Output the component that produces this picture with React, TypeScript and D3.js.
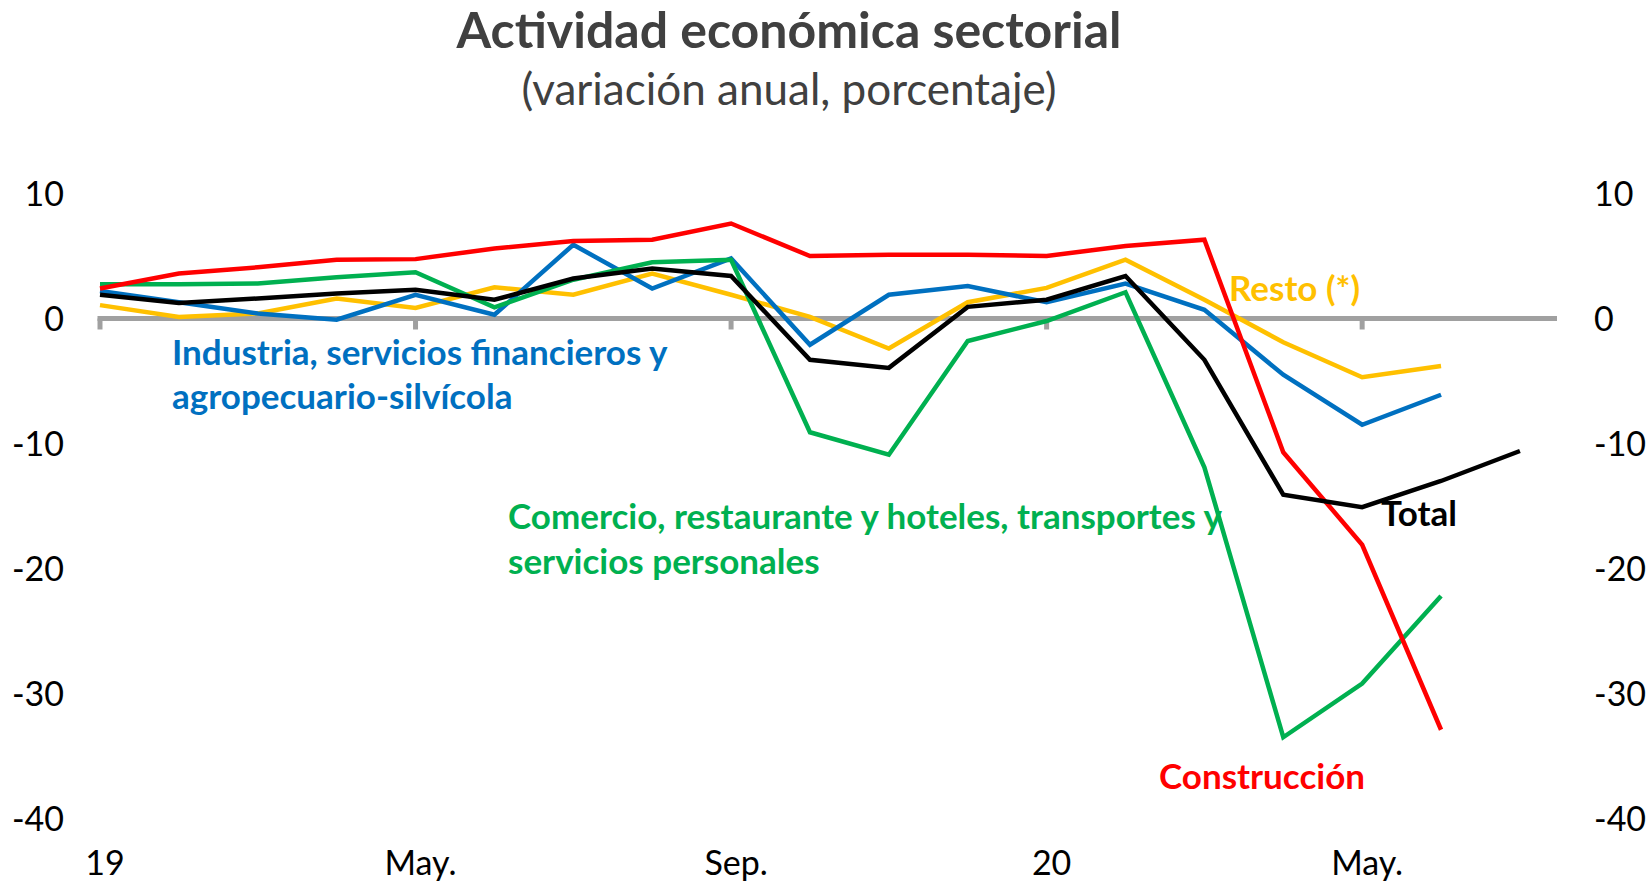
import React from 'react';
import * as d3 from 'd3';

// meses: ene-2019 .. jul-2020
const months = [
  '2019-01', '2019-02', '2019-03', '2019-04', '2019-05', '2019-06', '2019-07', '2019-08', '2019-09',
  '2019-10', '2019-11', '2019-12', '2020-01', '2020-02', '2020-03', '2020-04', '2020-05', '2020-06', '2020-07',
];

const construccion = [2.4, 3.6, 4.1, 4.7, 4.75, 5.6, 6.2, 6.3, 7.6, 5.0, 5.1, 5.1, 5.0, 5.8, 6.3, -10.7, -18.1, -32.9];
const comercio = [2.75, 2.75, 2.8, 3.3, 3.7, 0.9, 3.1, 4.5, 4.7, -9.1, -10.9, -1.8, -0.2, 2.1, -11.9, -33.5, -29.2, -22.2];
const industria = [2.2, 1.3, 0.4, -0.1, 1.9, 0.3, 5.9, 2.4, 4.8, -2.1, 1.9, 2.6, 1.3, 2.8, 0.7, -4.5, -8.5, -6.1];
const resto = [1.07, 0.13, 0.4, 1.6, 0.85, 2.5, 1.9, 3.6, 1.9, 0.13, -2.4, 1.3, 2.45, 4.7, 1.5, -1.9, -4.7, -3.8];
const total = [1.9, 1.25, 1.6, 2.0, 2.3, 1.5, 3.2, 4.0, 3.4, -3.3, -3.95, 0.93, 1.5, 3.4, -3.3, -14.1, -15.1, -13.0, -10.6];

const xTickMonths = ['2019-01', '2019-05', '2019-09', '2020-01', '2020-05'];
const xTickLabels = ['19', 'May.', 'Sep.', '20', 'May.'];
const yTicks = [10, 0, -10, -20, -30, -40];

const font = 'Lato, Calibri, sans-serif';

export default function App() {
  const width = 1650;
  const height = 885;

  // category axis runs a bit past the last month
  const x = d3.scaleLinear().domain([0, months.length - 0.53]).range([100, 1557]);
  const y = d3.scaleLinear().domain([-40, 10]).range([818.5, 193.5]);

  const line = d3.line<number>()
    .x((d, i) => x(i))
    .y((d) => y(d));

  const series = [
    { name: 'resto', values: resto, color: '#FFC000' },
    { name: 'industria', values: industria, color: '#0070C0' },
    { name: 'comercio', values: comercio, color: '#00B050' },
    { name: 'construccion', values: construccion, color: '#FF0000' },
    { name: 'total', values: total, color: '#000000' },
  ];

  const labelStyle = { fontFamily: font, fontWeight: 700, fontSize: 35 };

  return (
    <svg width={width} height={height} style={{ position: 'absolute', left: 0, top: 0, background: '#fff' }}>
      <text x={789} y={48} textAnchor="middle" fontFamily={font} fontWeight={700} fontSize={50} fill="#404040">
        Actividad económica sectorial
      </text>
      <text x={789} y={105} textAnchor="middle" fontFamily={font} fontSize={44} fill="#404040">
        (variación anual, porcentaje)
      </text>

      {/* eje cero con marcas */}
      <line x1={x(0) - 2.5} x2={x.range()[1]} y1={y(0)} y2={y(0)} stroke="#A0A0A0" strokeWidth={5} />
      {xTickMonths.map((m) => (
        <line key={m} x1={x(months.indexOf(m))} x2={x(months.indexOf(m))} y1={y(0)} y2={y(0) + 11} stroke="#A0A0A0" strokeWidth={5} />
      ))}

      {yTicks.map((t) => (
        <g key={t}>
          <text x={64} y={y(t) + 12} textAnchor="end" fontFamily={font} fontSize={34} fill="#000">{t}</text>
          <text x={1594} y={y(t) + 12} textAnchor="start" fontFamily={font} fontSize={34} fill="#000">{t}</text>
        </g>
      ))}

      {xTickMonths.map((m, i) => (
        <text key={m + i} x={x(months.indexOf(m)) + 5} y={875} textAnchor="middle" fontFamily={font} fontSize={34} fill="#000">
          {xTickLabels[i]}
        </text>
      ))}

      {series.map((s) => (
        <path key={s.name} d={line(s.values) || ''} fill="none" stroke={s.color} strokeWidth={4.5} strokeLinejoin="miter" strokeLinecap="butt" />
      ))}

      <text style={labelStyle} fill="#0070C0">
        <tspan x={172} y={365}>Industria, servicios financieros y</tspan>
        <tspan x={172} y={409}>agropecuario-silvícola</tspan>
      </text>
      <text style={labelStyle} fill="#00B050">
        <tspan x={508} y={529}>Comercio, restaurante y hoteles, transportes y</tspan>
        <tspan x={508} y={574}>servicios personales</tspan>
      </text>
      <text x={1229} y={301} style={labelStyle} fill="#FFC000">Resto (*)</text>
      <text x={1381} y={526} style={labelStyle} fill="#000">Total</text>
      <text x={1159} y={789} style={labelStyle} fill="#FF0000">Construcción</text>
    </svg>
  );
}
